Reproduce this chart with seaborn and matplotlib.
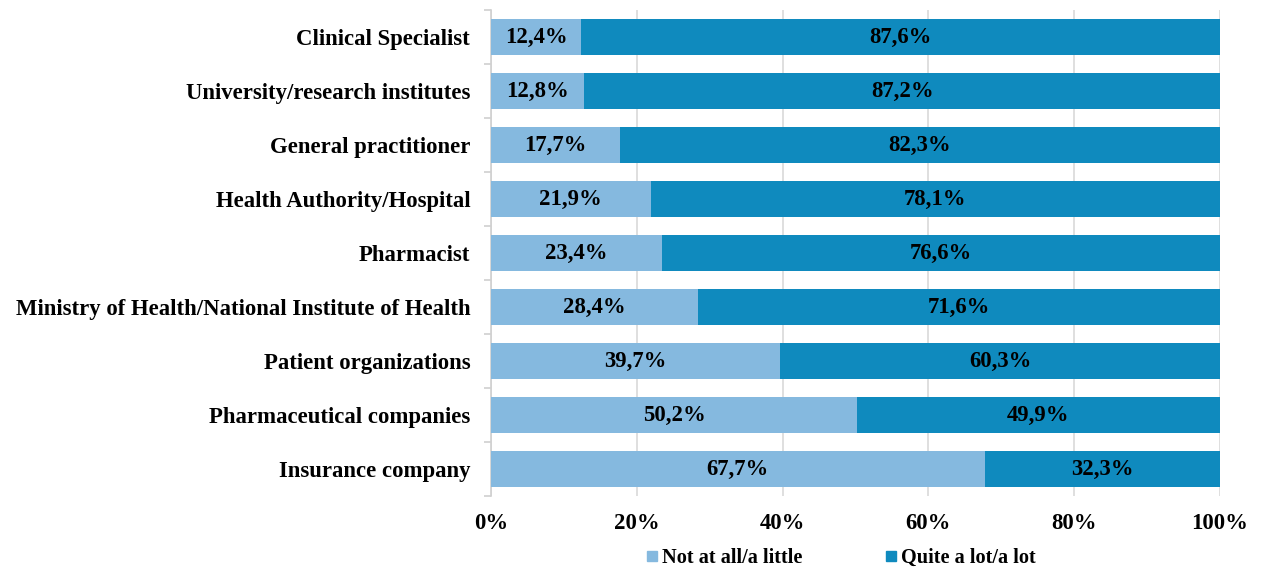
import matplotlib
matplotlib.use("Agg")
import matplotlib.pyplot as plt
import seaborn as sns
import pandas as pd
from matplotlib.lines import Line2D
from matplotlib.ticker import FixedLocator, NullFormatter

categories = ["Clinical Specialist", "University/research institutes", "General practitioner",
              "Health Authority/Hospital", "Pharmacist",
              "Ministry of Health/National Institute of Health", "Patient organizations",
              "Pharmaceutical companies", "Insurance company"]
not_at_all = [12.4, 12.8, 17.7, 21.9, 23.4, 28.4, 39.7, 50.2, 67.7]
quite_a_lot = [87.6, 87.2, 82.3, 78.1, 76.6, 71.6, 60.3, 49.9, 32.3]
series_names = ["Not at all/a little", "Quite a lot/a lot"]
xticks = [0, 20, 40, 60, 80, 100]

c_light = "#85B9DF"
c_dark = "#0F8ABE"

sns.set_theme(style="white")
plt.rcParams['font.family'] = ['Liberation Serif', 'DejaVu Serif']
plt.rcParams['font.weight'] = 'bold'
plt.rcParams['text.color'] = 'black'
plt.rcParams['xtick.color'] = 'black'
plt.rcParams['ytick.color'] = 'black'

df = pd.DataFrame({"cat": categories, "light": not_at_all, "dark": quite_a_lot})
df["total"] = df["light"] + df["dark"]

fig = plt.figure(figsize=(12.65, 5.73), dpi=100)
ax = fig.add_axes([491/1265, 1-496/573, (1220-491)/1265, (496-10)/573])

sns.barplot(data=df, y="cat", x="total", color=c_dark, orient="h", width=0.667,
            saturation=1, ax=ax, zorder=2, linewidth=0)
sns.barplot(data=df, y="cat", x="light", color=c_light, orient="h", width=0.667,
            saturation=1, ax=ax, zorder=3, linewidth=0)

fs = 16.4
for i, (l, d) in enumerate(zip(not_at_all, quite_a_lot)):
    ax.text(l / 2, i, f"{l:.1f}%".replace(".", ","), ha="center", va="center",
            fontsize=fs, fontweight="bold", color="black", zorder=5)
    ax.text(l + (100 - l) / 2, i, f"{d:.1f}%".replace(".", ","), ha="center", va="center",
            fontsize=fs, fontweight="bold", color="black", zorder=5)

ax.set_xlim(0, 100)
ax.set_ylim(len(categories) - 0.5, -0.5)
ax.set_xticks(xticks)
ax.set_xticklabels([f"{t}%" for t in xticks], fontsize=fs, fontweight="bold", color="black")
ax.tick_params(axis="x", length=0, pad=12)
ax.set_yticks(range(len(categories)))
ax.set_yticklabels(categories, fontsize=fs, fontweight="bold", color="black")
ax.tick_params(axis="y", which="major", length=0, pad=15)
ax.yaxis.set_minor_locator(FixedLocator([i - 0.5 for i in range(len(categories) + 1)]))
ax.yaxis.set_minor_formatter(NullFormatter())
ax.tick_params(axis="y", which="minor", length=5, width=1.2, color="#D0D0D0", left=True)
ax.set_xlabel("")
ax.set_ylabel("")
ax.grid(axis="x", color="#D9D9D9", linewidth=1.2, zorder=0)
ax.set_axisbelow(True)
for s in ["top", "right", "bottom"]:
    ax.spines[s].set_visible(False)
ax.spines["left"].set_color("#D0D0D0")
ax.spines["left"].set_linewidth(1.2)

handles = [Line2D([], [], marker="s", linestyle="none", markersize=7.5, color=c_light),
           Line2D([], [], marker="s", linestyle="none", markersize=7.5, color=c_dark)]
fig.legend(handles, series_names, loc="center", bbox_to_anchor=(840/1265, 1-558/573),
           ncol=2, frameon=False, handlelength=0.75, handletextpad=0.1, columnspacing=4.0,
           prop={"weight": "bold", "size": 14.6})

fig.savefig("out.png", dpi=100)
